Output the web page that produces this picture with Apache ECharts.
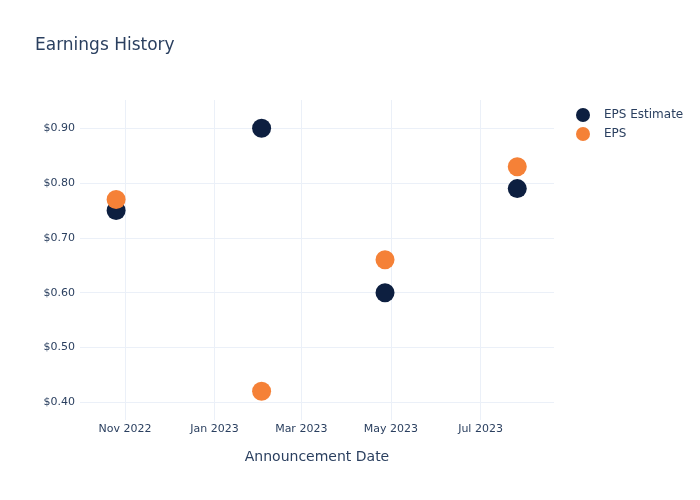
<!DOCTYPE html>
<html>
<head>
<meta charset="utf-8">
<script src="https://cdn.jsdelivr.net/npm/echarts@6/dist/echarts.min.js"></script>
<style>html,body{margin:0;padding:0;background:#fff;}#chart{width:700px;height:500px;}</style>
</head>
<body>
<div id="chart"></div>
<script>
const dates = ['2022-10-26', '2023-02-02', '2023-04-27', '2023-07-26'];
const epsEstimate = [0.75, 0.90, 0.60, 0.79];
const eps = [0.77, 0.42, 0.66, 0.83];
const monthNames = ['Jan','Feb','Mar','Apr','May','Jun','Jul','Aug','Sep','Oct','Nov','Dec'];

const textColor = '#2a3f5f';
const gridColor = '#ebf0f8';
const font = '"DejaVu Sans", sans-serif';

const chart = echarts.init(document.getElementById('chart'), null, {renderer: 'canvas'});
chart.setOption({
  animation: false,
  backgroundColor: '#fff',
  textStyle: {fontFamily: font},
  title: {
    text: 'Earnings History',
    left: 30, top: 32,
    textStyle: {fontFamily: font, fontSize: 17, fontWeight: 'normal', color: textColor}
  },
  legend: {
    orient: 'vertical',
    left: 571, top: 103,
    itemWidth: 14, itemHeight: 14, itemGap: 5,
    icon: 'circle',
    textStyle: {fontFamily: font, fontSize: 12, color: textColor, padding: [0, 0, 0, 9]},
    data: ['EPS Estimate', 'EPS']
  },
  grid: {left: 80, right: 146, top: 100, bottom: 80, containLabel: false},
  xAxis: {
    type: 'time',
    min: new Date('2022-10-01T10:00:00').getTime(),
    max: new Date('2023-08-20T00:00:00').getTime(),
    splitNumber: 5,
    name: 'Announcement Date',
    nameLocation: 'middle',
    nameGap: 30,
    nameTextStyle: {fontFamily: font, fontSize: 14, color: textColor},
    axisLine: {show: false},
    axisTick: {show: false},
    axisLabel: {
      color: textColor, fontSize: 11, fontFamily: font, margin: 4,
      showMinLabel: false, showMaxLabel: false,
      formatter: function (v) { const d = new Date(v); return monthNames[d.getMonth()] + ' ' + d.getFullYear(); },
      rich: {}
    },
    splitLine: {show: true, showMinLine: false, showMaxLine: false, lineStyle: {color: gridColor, width: 1}}
  },
  yAxis: {
    type: 'value',
    min: 0.3677,
    max: 0.9517,
    splitNumber: 5,
    axisLine: {show: false},
    axisTick: {show: false},
    axisLabel: {
      color: textColor, fontSize: 11, fontFamily: font, margin: 5,
      showMinLabel: false, showMaxLabel: false,
      formatter: function (v) { return '$' + v.toFixed(2); }
    },
    splitLine: {show: true, showMinLine: false, showMaxLine: false, lineStyle: {color: gridColor, width: 1}}
  },
  series: [
    {
      name: 'EPS Estimate', type: 'scatter', symbolSize: 19,
      itemStyle: {color: '#0d1f40', opacity: 1},
      data: dates.map((d, i) => [d, epsEstimate[i]])
    },
    {
      name: 'EPS', type: 'scatter', symbolSize: 19,
      itemStyle: {color: '#f58137', opacity: 1},
      data: dates.map((d, i) => [d, eps[i]])
    }
  ]
});
</script>
</body>
</html>
